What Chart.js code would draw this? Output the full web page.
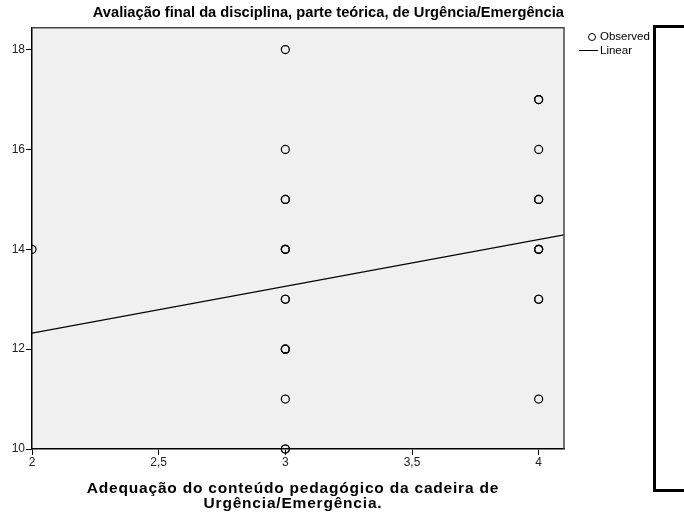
<!DOCTYPE html>
<html>
<head>
<meta charset="utf-8">
<script src="https://cdn.jsdelivr.net/npm/chart.js@4"></script>
<style>
  body { margin: 0; background: #fff; }
  #wrap { position: relative; width: 684px; height: 515px; }
  #frame {
    position: absolute; left: 653px; top: 25px; width: 40px; height: 461px;
    border: 3px solid #000; border-right: none;
  }
</style>
</head>
<body>
<div id="wrap">
  <canvas id="scatter"></canvas>
  <div id="frame"></div>
</div>
<script>
// observed points (repeats = overlapping cases drawn darker)
const observedX = [2,
    3, 3, 3, 3, 3, 3, 3, 3, 3, 3, 3, 3, 3, 3, 3,
    4, 4, 4, 4, 4, 4, 4, 4, 4, 4, 4];
const observedY = [14,
    18, 16, 15, 15, 14, 14, 14, 13, 13, 12, 12, 12, 11, 10, 10,
    17, 17, 16, 15, 15, 14, 14, 14, 13, 13, 11];

// linear fit, read at the plot edges
const fitX = [2, 4.1];
const fitY = [12.32, 14.29];

const chartTitle = 'Avaliação final da disciplina, parte teórica, de Urgência/Emergência';
const xTitle = ['Adequação do conteúdo pedagógico da cadeira de', 'Urgência/Emergência.'];

const plotBox = {
    id: 'plotBox',
    beforeDraw(chart) {
        const a = chart.chartArea;
        const ctx = chart.ctx;
        ctx.save();
        ctx.fillStyle = '#f0f0f0';
        ctx.fillRect(a.left, a.top, a.right - a.left, a.bottom - a.top);
        ctx.restore();
    },
    afterDraw(chart) {
        const a = chart.chartArea;
        const ctx = chart.ctx;
        ctx.save();
        ctx.strokeStyle = '#444';
        ctx.lineWidth = 1.5;
        ctx.beginPath();
        ctx.moveTo(a.left, a.top);
        ctx.lineTo(a.right, a.top);
        ctx.lineTo(a.right, a.bottom);
        ctx.stroke();

        // x axis title (spaced out a little like the original)
        const xs = chart.scales.x;
        const cx = (xs.left + xs.right) / 2 - 5;
        ctx.fillStyle = '#000';
        ctx.font = 'bold 15.5px Arial';
        ctx.letterSpacing = '0.8px';
        ctx.textAlign = 'center';
        ctx.textBaseline = 'middle';
        xTitle.forEach((t, i) => ctx.fillText(t, cx, 489 + i * 15));
        ctx.letterSpacing = '0px';

        // legend
        ctx.textAlign = 'left';
        ctx.strokeStyle = '#000';
        ctx.lineWidth = 1;
        ctx.beginPath();
        ctx.arc(592, 37, 3.5, 0, Math.PI * 2);
        ctx.stroke();
        ctx.beginPath();
        ctx.moveTo(579, 50.5);
        ctx.lineTo(598, 50.5);
        ctx.stroke();
        ctx.font = '11.5px Arial';
        ctx.fillText(chart.data.datasets[0].label, 600, 37);
        ctx.fillText(chart.data.datasets[1].label, 600, 51);
        ctx.restore();
    }
};

const ctx = document.getElementById('scatter').getContext('2d');
const scatterChart = new Chart(ctx, {
    type: 'scatter',
    data: {
        datasets: [
            {
                label: 'Observed',
                data: observedX.map((x, i) => ({x: x, y: observedY[i]})),
                pointStyle: 'circle',
                pointRadius: 4,
                pointBorderWidth: 1.2,
                borderColor: '#000',
                backgroundColor: 'rgba(0,0,0,0)',
                clip: {left: 0, top: 6, right: 6, bottom: 6},
            },
            {
                label: 'Linear',
                type: 'line',
                data: fitX.map((x, i) => ({x: x, y: fitY[i]})),
                borderColor: '#000',
                borderWidth: 1.2,
                pointRadius: 0,
                fill: false,
            }
        ]
    },
    options: {
        responsive: true,
        maintainAspectRatio: false,
        animation: false,
        layout: {
            padding: {left: 0, right: 120, top: 0, bottom: 0}
        },
        scales: {
            x: {
                type: 'linear',
                min: 2,
                max: 4.1,
                afterFit: (s) => { s.height = 66; },
                grid: {
                    drawOnChartArea: false,
                    color: '#000',
                    tickLength: 6,
                },
                border: {color: '#000', width: 1.5},
                ticks: {
                    stepSize: 0.5,
                    includeBounds: false,
                    color: '#222',
                    padding: 0,
                    font: {family: 'Arial', size: 12},
                    callback: (v) => String(v).replace('.', ','),
                    maxRotation: 0,
                },
                title: {display: false}
            },
            y: {
                min: 10,
                max: 18.44,
                afterFit: (s) => { s.width = 32; },
                grid: {
                    drawOnChartArea: false,
                    color: '#000',
                    tickLength: 6,
                },
                border: {color: '#000', width: 1.5},
                ticks: {
                    stepSize: 2,
                    includeBounds: false,
                    color: '#222',
                    padding: 1,
                    font: {family: 'Arial', size: 12},
                }
            }
        },
        plugins: {
            legend: {display: false},
            tooltip: {enabled: false},
            title: {
                display: true,
                text: chartTitle,
                align: 'end',
                color: '#000',
                font: {family: 'Arial', size: 14.7, weight: 'bold', lineHeight: 1.2},
                padding: {top: 4, bottom: 6},
            }
        }
    },
    plugins: [plotBox]
});
window.scatterChart = scatterChart;
</script>
</body>
</html>
